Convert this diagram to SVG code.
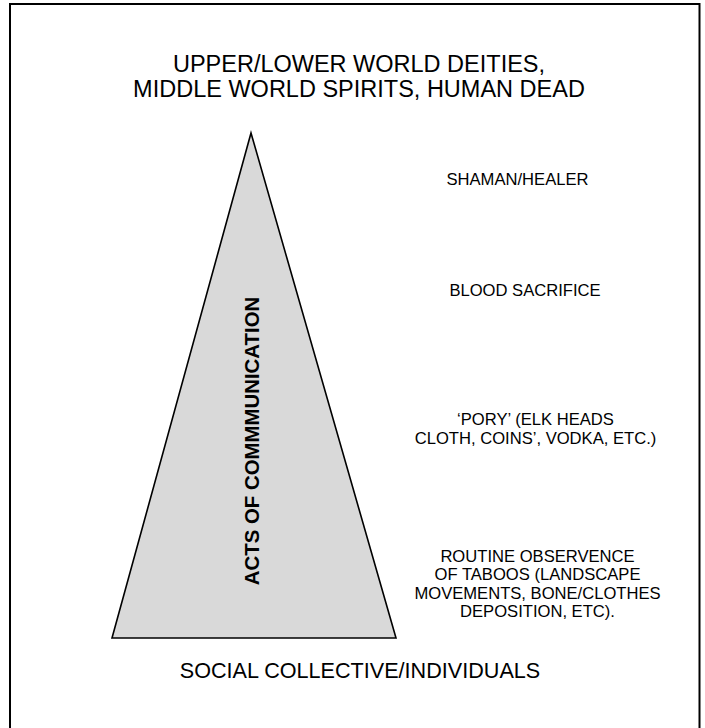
<svg xmlns="http://www.w3.org/2000/svg" width="705" height="728" viewBox="0 0 705 728">
<style>
text{font-family:"Liberation Sans",Arial,sans-serif;fill:#000;text-anchor:middle}
.title{font-size:23.5px}
.lbl{font-size:16.6px}
.bottom{font-size:21.6px}
.vert{font-size:20.4px;font-weight:bold}
</style>
<rect x="0" y="0" width="705" height="728" fill="#fff"/>
<rect id="frame" x="10" y="4" width="689.5" height="740" fill="none" stroke="#000" stroke-width="2"/>
<g id="connectors"></g>
<g id="top-node">
<text class="title" x="359" y="72">UPPER/LOWER WORLD DEITIES,</text>
<text class="title" x="359" y="97">MIDDLE WORLD SPIRITS, HUMAN DEAD</text>
</g>
<g id="pyramid">
<polygon points="251,133 396,638 112,638" fill="#d9d9d9" stroke="#000" stroke-width="1.6" stroke-linejoin="miter"/>
<text class="vert" x="0" y="0" transform="translate(258.5,441) rotate(-90)">ACTS OF COMMMUNICATION</text>
</g>
<g id="shaman"><text class="lbl" x="517.5" y="185">SHAMAN/HEALER</text></g>
<g id="blood"><text class="lbl" x="525" y="296">BLOOD SACRIFICE</text></g>
<g id="pory">
<text class="lbl" x="535.5" y="425">‘PORY’ (ELK HEADS</text>
<text class="lbl" x="535.5" y="444">CLOTH, COINS’, VODKA, ETC.)</text>
</g>
<g id="taboos">
<text class="lbl" x="537.5" y="562">ROUTINE OBSERVENCE</text>
<text class="lbl" x="537.5" y="580">OF TABOOS (LANDSCAPE</text>
<text class="lbl" x="537.5" y="599">MOVEMENTS, BONE/CLOTHES</text>
<text class="lbl" x="537.5" y="617">DEPOSITION, ETC).</text>
</g>
<g id="bottom-node"><text class="bottom" x="360" y="678">SOCIAL COLLECTIVE/INDIVIDUALS</text></g>
</svg>
